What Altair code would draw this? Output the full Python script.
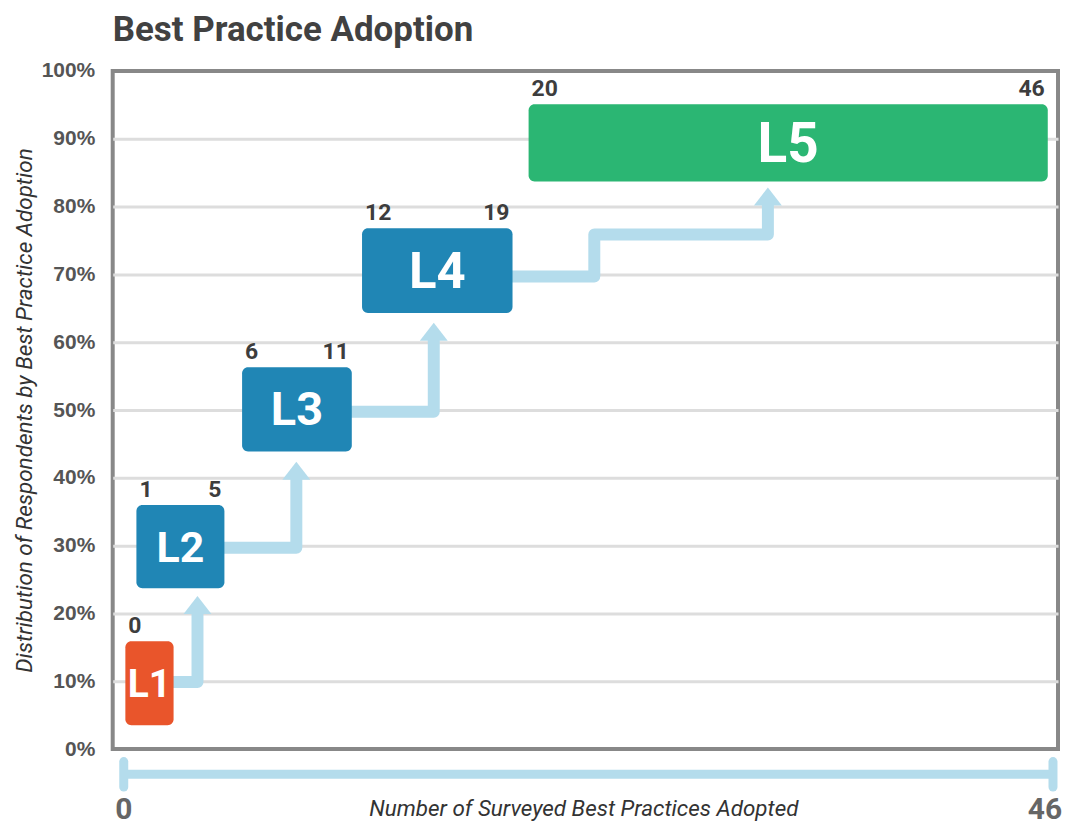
import altair as alt
import pandas as pd

# ---------------- data ----------------
levels = ["L1", "L2", "L3", "L4", "L5"]
range_start = ["0", "1", "6", "12", "20"]
range_end = ["", "5", "11", "19", "46"]
# box extents (x in number of practices, y in % of respondents)
box_x0 = [0.08, 0.63, 5.89, 11.86, 20.15]
box_x1 = [2.48, 5.01, 11.35, 19.35, 45.99]
box_y0 = [3.5, 23.7, 43.9, 64.3, 83.7]
box_y1 = [15.9, 36.0, 56.3, 76.8, 95.1]

# step arrows between levels
arrow_id = [1, 1, 1, 2, 2, 2, 3, 3, 3, 4, 4, 4, 4, 4]
arrow_step = [0, 1, 2, 0, 1, 2, 0, 1, 2, 0, 1, 2, 3, 4]
arrow_x = [2.3, 3.67, 3.67, 4.86, 8.59, 8.59, 11.2, 15.43, 15.43,
           19.2, 23.42, 23.42, 32.06, 32.06]
arrow_y = [9.9, 9.9, 20.1, 29.7, 29.7, 39.9, 49.75, 49.75, 60.4,
           69.7, 69.7, 75.9, 75.9, 80.35]
head_x = [3.67, 8.59, 15.43, 32.06]
head_y = [19.9, 39.7, 60.2, 80.15]

# axes
y_ticks = [0, 10, 20, 30, 40, 50, 60, 70, 80, 90, 100]
range_bar_x = [0, 46.25]
range_bar_y = [-3.7]
range_cap_y = [-1.85, -5.6]
end_label_x = [0, 46]
end_labels = ["0", "46"]
end_label_y = [-9.0]
x_title = "Number of Surveyed Best Practices Adopted"
x_title_pos = [22.9, -8.9]
y_title = "Distribution of Respondents by Best Practice Adoption"
chart_title = "Best Practice Adoption"

# ---------------- styles ----------------
box_colors = ["#E9552B", "#2086B5", "#2086B5", "#2086B5", "#2BB673"]
label_sizes = [39, 55, 62, 63, 64]
NARROW = "Roboto, Liberation Sans, sans-serif"
REG = "Liberation Sans, Arial, sans-serif"
ARROW = "#B4DCEC"

boxes = pd.DataFrame({
    "level": levels, "x0": box_x0, "x1": box_x1, "y0": box_y0, "y1": box_y1,
    "start": range_start, "end": range_end,
})
boxes["xm"] = (boxes["x0"] + boxes["x1"]) / 2
boxes["ym"] = (boxes["y0"] + boxes["y1"]) / 2

arrows = pd.DataFrame({"id": arrow_id, "step": arrow_step, "x": arrow_x, "y": arrow_y})
heads = pd.DataFrame({"x": head_x, "y": head_y})

xs = alt.Scale(domain=[-0.55, 46.5], nice=False, zero=False)
ys = alt.Scale(domain=[0, 100], nice=False, zero=False)

X = lambda f: alt.X(f, type="quantitative", scale=xs, axis=None)

base_y_axis = alt.Axis(
    values=y_ticks,
    labelExpr="datum.value + '%'",
    labelFont=REG, labelFontWeight="bold", labelFontSize=21, labelColor="#555555",
    labelPadding=18, ticks=False, domain=False,
    grid=True, gridColor="#DDDDDD", gridWidth=3,
    gridOpacity={"condition": {"test": "datum.value === 0 || datum.value === 100", "value": 0}, "value": 1},
    title=y_title, titleFont=NARROW, titleFontStyle="italic", titleFontWeight="normal",
    titleFontSize=22.5, titleColor="#333333", titlePadding=5,
)

arrow_lines = alt.Chart(arrows).mark_line(
    color=ARROW, strokeWidth=12, strokeJoin="round", strokeCap="butt"
).encode(
    x=X("x"),
    y=alt.Y("y:Q", scale=ys, axis=base_y_axis),
    detail="id:N",
    order="step:Q",
)

arrow_heads = alt.Chart(heads).mark_point(
    shape="M0,-1.3 L1,0 L-1,0 Z", filled=True, fill=ARROW, opacity=1, strokeWidth=0, size=784
).encode(x=X("x"), y=alt.Y("y:Q", scale=ys))

rects = alt.Chart(boxes).mark_rect(cornerRadius=6).encode(
    x=X("x0"), x2="x1",
    y=alt.Y("y0:Q", scale=ys), y2="y1",
    color=alt.Color("level:N", scale=alt.Scale(domain=levels, range=box_colors), legend=None),
)

rect_labels = alt.Chart(boxes).mark_text(
    font=NARROW, fontWeight="bold", color="white", baseline="middle", align="center", dy=2
).encode(
    x=X("xm"), y=alt.Y("ym:Q", scale=ys), text="level:N",
    size=alt.Size("level:O", scale=alt.Scale(domain=levels, range=label_sizes), legend=None),
)

start_labels = alt.Chart(boxes).mark_text(
    font=NARROW, fontWeight="bold", fontSize=23, color="#3D3D3D",
    align="left", baseline="alphabetic", dx=3, dy=-8
).encode(x=X("x0"), y=alt.Y("y1:Q", scale=ys), text="start:N")

end_labels_layer = alt.Chart(boxes).mark_text(
    font=NARROW, fontWeight="bold", fontSize=23, color="#3D3D3D",
    align="right", baseline="alphabetic", dx=-3, dy=-8
).encode(x=X("x1"), y=alt.Y("y1:Q", scale=ys), text="end:N")

bar_df = pd.DataFrame({"x": [range_bar_x[0]], "x2": [range_bar_x[1]], "y": range_bar_y})
range_bar = alt.Chart(bar_df).mark_rule(color=ARROW, strokeWidth=9).encode(
    x=X("x"), x2="x2", y=alt.Y("y:Q", scale=ys)
)
caps_df = pd.DataFrame({"x": range_bar_x, "y": [range_cap_y[0]] * 2, "y2": [range_cap_y[1]] * 2})
range_caps = alt.Chart(caps_df).mark_rule(color=ARROW, strokeWidth=9, strokeCap="round").encode(
    x=X("x"), y=alt.Y("y:Q", scale=ys), y2="y2"
)

ends_df = pd.DataFrame({"x": end_label_x, "y": end_label_y * 2, "t": end_labels})
end_text_0 = alt.Chart(ends_df.iloc[[0]]).mark_text(
    font=NARROW, fontWeight="bold", fontSize=30, color="#666666", baseline="middle", align="center"
).encode(x=X("x"), y=alt.Y("y:Q", scale=ys), text="t:N")
end_text_46 = alt.Chart(ends_df.iloc[[1]]).mark_text(
    font=NARROW, fontWeight="bold", fontSize=30, color="#666666", baseline="middle", align="center", dx=-3
).encode(x=X("x"), y=alt.Y("y:Q", scale=ys), text="t:N")

xt_df = pd.DataFrame({"x": [x_title_pos[0]], "y": [x_title_pos[1]], "t": [x_title]})
x_title_text = alt.Chart(xt_df).mark_text(
    font=NARROW, fontStyle="italic", fontSize=22.5, color="#333333", baseline="middle", align="center"
).encode(x=X("x"), y=alt.Y("y:Q", scale=ys), text="t:N")

chart = alt.layer(
    arrow_lines, arrow_heads, rects, rect_labels, start_labels, end_labels_layer,
    range_bar, range_caps, end_text_0, end_text_46, x_title_text,
).properties(
    width=948, height=680,
    padding={"left": 105, "top": 62, "right": 4, "bottom": 77},
    autosize=alt.AutoSizeParams(type="none"),
    title=alt.TitleParams(
        chart_title, anchor="start", frame="group", font=NARROW, fontSize=35,
        fontWeight="bold", color="#414141", baseline="alphabetic", offset=-16,
    ),
).configure(
    background="white",
    view=alt.ViewConfig(stroke="#888888", strokeWidth=4),
)

chart.save("out.html", embed_options={"renderer": "svg", "actions": False})
